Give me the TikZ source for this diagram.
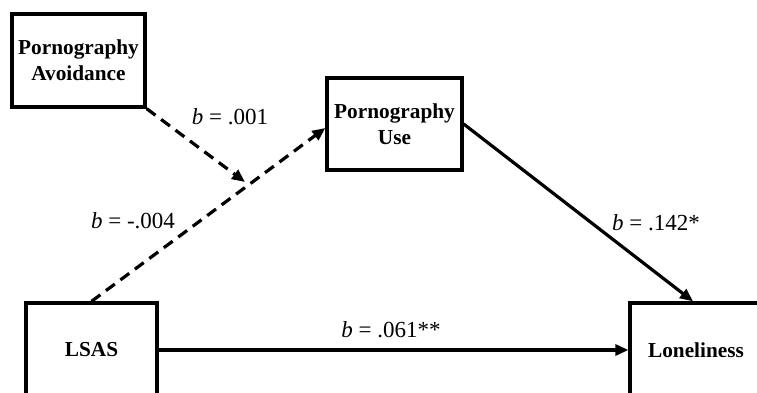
\documentclass[tikz,border=0pt]{standalone}
\usepackage{fontspec}
\setmainfont{Liberation Serif}
\usetikzlibrary{arrows.meta,calc}
\begin{document}
\begin{tikzpicture}[x=1pt,y=-1pt,
  box/.style={draw,line width=3.3pt,rectangle,align=center,inner sep=0pt,
    font=\fontsize{21.3}{26}\selectfont\bfseries},
  conn/.style={line width=3.2pt,-{Triangle[length=13pt,width=11pt]}},
  dconn/.style={conn,dash pattern=on 11pt off 7pt},
  lab/.style={font=\fontsize{23}{26}\selectfont,inner sep=0pt}]
\useasboundingbox (0,0) rectangle (757,393);
\clip (0,0) rectangle (757,393);
\node[box,minimum width=133pt,minimum height=93pt] (PA) at (78.5,60.5) {Pornography\\Avoidance};
\node[box,minimum width=135pt,minimum height=92pt] (PU) at (394.5,124) {Pornography\\Use};
\node[box,minimum width=131pt,minimum height=94pt] (LS) at (91.5,350) {LSAS};
\node[box,minimum width=132pt,minimum height=94pt] (LO) at (696,350) {Loneliness};
\coordinate (M) at (245,182);
\draw[dconn] (LS.north) -- ($(PU.west)+(0,4)$);
\draw[dconn] (PA.south east) -- (M);
\draw[conn] (PU.east) -- ($(LO.north)+(-3,0)$);
\draw[conn] (LS.east) -- (LO.west);
\node[lab] (l1) at (230,117) {{\itshape b} = .001};
\node[lab] (l2) at (133,221) {{\itshape b} = -.004};
\node[lab] (l3) at (656,223) {{\itshape b} = .142*};
\node[lab] (l4) at (391,330) {{\itshape b} = .061**};
\end{tikzpicture}
\end{document}
